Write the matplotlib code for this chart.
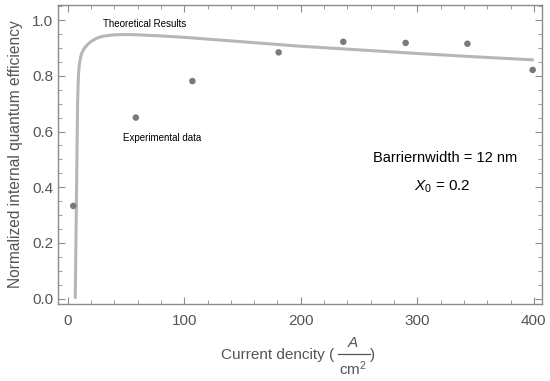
import matplotlib
matplotlib.use("Agg")
import matplotlib.pyplot as plt
from matplotlib.lines import Line2D
from matplotlib.ticker import MultipleLocator

plt.rcParams['font.family'] = ['Liberation Sans', 'DejaVu Sans']
plt.rcParams['mathtext.fontset'] = 'custom'
plt.rcParams['mathtext.rm'] = 'Liberation Sans'
plt.rcParams['mathtext.it'] = 'Liberation Sans:italic'

# theoretical curve
theory_x = [6.5, 7.5, 8.5, 9.2, 10, 11, 12, 14, 17, 20, 25, 30, 40, 50, 60, 80,
            100, 150, 200, 250, 300, 350, 400]
theory_y = [0.0, 0.35, 0.70, 0.80, 0.84, 0.865, 0.88, 0.897, 0.912, 0.923, 0.935,
            0.942, 0.947, 0.948, 0.947, 0.943, 0.938, 0.922, 0.906, 0.893, 0.880,
            0.868, 0.857]

# experimental points
exp_x = [4.8, 58.5, 107, 181, 236.5, 290, 343, 399]
exp_y = [0.333, 0.650, 0.781, 0.884, 0.922, 0.918, 0.915, 0.821]

spine_col = '#8c8c8c'
text_col = '#555555'
W, H = 550, 381


def px(x, y):
    # pixel position (from top-left) -> figure fraction
    return x / W, 1 - y / H


fig = plt.figure(figsize=(5.5, 3.81), dpi=100)
ax = fig.add_axes([58/W, 1 - 304/H, (542 - 58)/W, (304 - 5)/H])

ax.plot(theory_x, theory_y, color='#b6b6b6', lw=2.2, solid_capstyle='butt', zorder=2)
ax.scatter(exp_x, exp_y, s=22, color='#7a7a7a', edgecolors='none', zorder=3)

ax.set_xlim(-8.3, 407)
ax.set_ylim(-0.019, 1.054)

ax.xaxis.set_major_locator(MultipleLocator(100))
ax.xaxis.set_minor_locator(MultipleLocator(20))
ax.yaxis.set_major_locator(MultipleLocator(0.2))
ax.yaxis.set_minor_locator(MultipleLocator(0.05))
ax.yaxis.set_major_formatter(plt.FuncFormatter(lambda v, p: f"{v:.1f}"))

ax.tick_params(which='both', direction='in', top=True, right=True,
               color=spine_col, labelcolor=text_col, labelsize=11)
ax.tick_params(which='major', length=5, width=0.8)
ax.tick_params(which='minor', length=3, width=0.6)
ax.tick_params(axis='x', pad=7)
ax.tick_params(axis='y', pad=3.5)

for s in ax.spines.values():
    s.set_color(spine_col)
    s.set_linewidth(1.0)

ax.set_ylabel('Normalized internal quantum efficiency', color=text_col, fontsize=11.2)
ax.yaxis.set_label_coords(-35/484, 0.5)

# x label with a full-size fraction
fig.text(*px(220.7, 355), 'Current dencity (', color=text_col, fontsize=11,
         ha='left', va='center')
fig.text(*px(353, 343), 'A', color=text_col, fontsize=11, style='italic',
         ha='center', va='center')
fig.text(*px(353, 369), r'cm$^2$', color=text_col, fontsize=11,
         ha='center', va='center')
fig.lines.append(Line2D([338/W, 370/W], [1 - 353.5/H, 1 - 353.5/H],
                        transform=fig.transFigure, color=text_col, lw=0.9))
fig.text(*px(373, 355), ')', color=text_col, fontsize=11, ha='center', va='center')

ax.text(65.8, 0.986, 'Theoretical Results', fontsize=7, ha='center', va='center')
ax.text(80.8, 0.577, 'Experimental data', fontsize=7, ha='center', va='center')
ax.text(386, 0.505, 'Barriernwidth = 12 nm', fontsize=10.5, ha='right', va='center')
ax.text(321.6, 0.40, r'$X_0$ = 0.2', fontsize=11, ha='center', va='center')

fig.savefig('out.png', dpi=100)
